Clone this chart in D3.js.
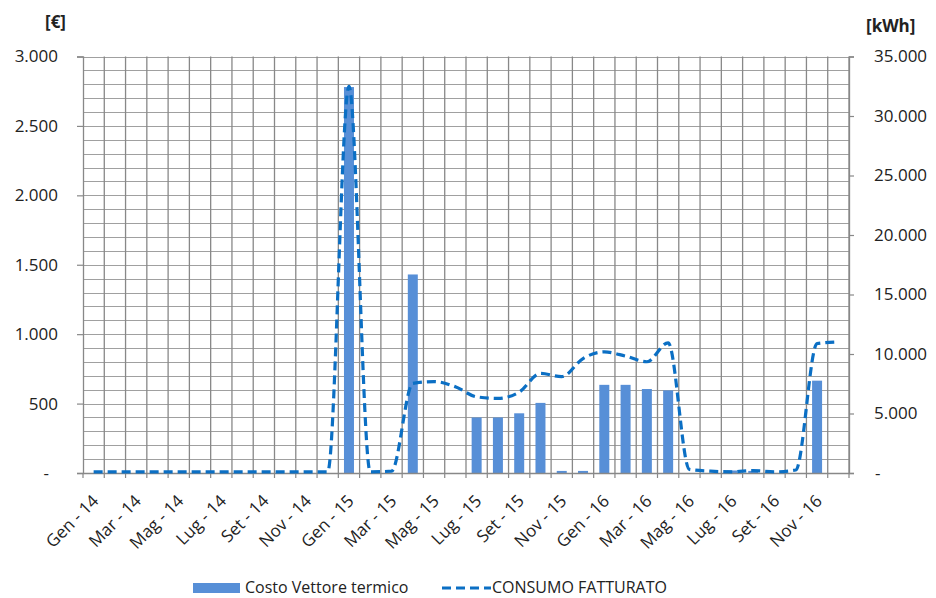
<!DOCTYPE html>
<html><head><meta charset="utf-8">
<script src="https://cdn.jsdelivr.net/npm/d3@7"></script>
<style>
body{margin:0;background:#fff;}
text{font-family:"Open Sans",sans-serif;fill:#222;}
</style></head>
<body><svg id="c" width="936" height="598"></svg>
<script>
const months = ["Gen","Feb","Mar","Apr","Mag","Giu","Lug","Ago","Set","Ott","Nov","Dic"];
const years = ["14","15","16"];
const categories = [];
years.forEach(y => months.forEach(m => categories.push(m + " - " + y)));

const costo = [0,0,0,0,0,0,0,0,0,0,0,0,
  2780,0,0,1430,0,0,400,400,430,505,15,15,
  635,635,605,595,0,0,18,15,0,0,665,0];
const consumo = [100,100,100,100,100,100,100,100,100,100,100,100,
  32500,100,150,7530,7680,7250,6400,6270,6800,8370,8100,9620,
  10180,9820,9350,10940,300,150,100,200,100,250,10880,11020];

const leftTicks = [0,500,1000,1500,2000,2500,3000];
const rightTicks = [0,5000,10000,15000,20000,25000,30000,35000];
const fmt = v => v === 0 ? "-" : d3.format(",")(v).replace(/,/g, ".");

const svg = d3.select("#c");
const X0 = 83, X1 = 849, Y0 = 56.5, Y1 = 473;

const x = d3.scaleBand().domain(categories).range([X0, X1]).paddingInner(0).paddingOuter(0);
const yL = d3.scaleLinear().domain([0,3000]).range([Y1, Y0]);
const yR = d3.scaleLinear().domain([0,35000]).range([Y1, Y0]);

// horizontal gridlines every 100
const g = svg.append("g");
g.selectAll("line.h").data(d3.range(100, 3001, 100)).join("line")
  .attr("x1", X0).attr("x2", X1)
  .attr("y1", d => Math.round(yL(d)) + 0.5).attr("y2", d => Math.round(yL(d)) + 0.5)
  .attr("stroke", "#a0a0a0").attr("stroke-width", 1);
// vertical gridlines at category boundaries
const bounds = categories.map(c => x(c)).concat([X1]);
g.selectAll("line.v").data(bounds.slice(1)).join("line")
  .attr("x1", d => d).attr("x2", d => d).attr("y1", Y0).attr("y2", Y1)
  .attr("stroke", "#888").attr("stroke-width", 1.3);

// bars
const bw = 10;
svg.append("g").selectAll("rect").data(categories.map((c,i)=>({c, v: costo[i]})).filter(d=>d.v>0)).join("rect")
  .attr("x", d => x(d.c) + x.bandwidth()/2 - bw/2)
  .attr("width", bw)
  .attr("y", d => yL(d.v))
  .attr("height", d => Y1 - yL(d.v))
  .attr("fill", "#578fd7");

// axes
const axL = d3.axisLeft(yL).tickValues(leftTicks).tickSize(6).tickFormat(fmt);
const gl = svg.append("g").attr("transform", `translate(${X0},0)`).call(axL);
const axR = d3.axisRight(yR).tickValues(rightTicks).tickSize(5).tickFormat(fmt);
const gr = svg.append("g").attr("transform", `translate(${X1},0)`).call(axR);
const axB = d3.axisBottom(x).tickValues([]).tickSize(0);
const gb = svg.append("g").attr("transform", `translate(0,${Y1})`).call(axB);
[gl, gr, gb].forEach(a => {
  a.selectAll(".domain").attr("stroke", "#888").attr("stroke-width", 1.3);
  a.selectAll(".tick line").attr("stroke", "#888").attr("stroke-width", 1.2);
  a.selectAll("text").attr("font-family", "Open Sans").attr("font-size", 17).attr("fill", "#222");
});
gl.selectAll(".tick text").attr("dx", 0).attr("x", d => d === 0 ? -34 : -25);
gr.selectAll(".tick text").attr("dx", 0).attr("x", d => d === 0 ? 26 : 25);
// bottom ticks at boundaries
svg.append("g").selectAll("line").data(bounds).join("line")
  .attr("x1", d => d).attr("x2", d => d).attr("y1", Y1).attr("y2", Y1 + 5)
  .attr("stroke", "#888").attr("stroke-width", 1.2);
// x labels
svg.append("g").selectAll("text").data(categories.filter((c,i) => i % 2 === 0)).join("text")
  .attr("transform", d => `translate(${x(d) + x.bandwidth()/2 + 6},${Y1 + 29}) rotate(-45)`)
  .attr("text-anchor", "end")
  .attr("font-size", 17)
  .text(d => d);

// line
const line = d3.line()
  .x((d,i) => x(categories[i]) + x.bandwidth()/2)
  .y(d => yR(d))
  .curve(d3.curveMonotoneX);
svg.append("path").datum(consumo).attr("d", line)
  .attr("fill", "none").attr("stroke", "#0b6fc4").attr("stroke-width", 3.2)
  .attr("stroke-dasharray", "9,5");

// axis titles
svg.append("text").attr("x", 45).attr("y", 28).attr("font-size", 17).attr("font-weight", "bold").text("[€]");
svg.append("text").attr("x", 866).attr("y", 32).attr("font-size", 17).attr("font-weight", "bold").text("[kWh]");

// legend
const lg = svg.append("g");
lg.append("rect").attr("x", 193).attr("y", 583).attr("width", 47).attr("height", 10).attr("fill", "#578fd7");
lg.append("text").attr("x", 245).attr("y", 593).attr("font-size", 16).text("Costo Vettore termico");
lg.append("line").attr("x1", 442).attr("x2", 491).attr("y1", 588).attr("y2", 588)
  .attr("stroke", "#0b6fc4").attr("stroke-width", 3.2).attr("stroke-dasharray", "9,5");
lg.append("text").attr("x", 492).attr("y", 593).attr("font-size", 16).text("CONSUMO FATTURATO");
</script></body></html>
